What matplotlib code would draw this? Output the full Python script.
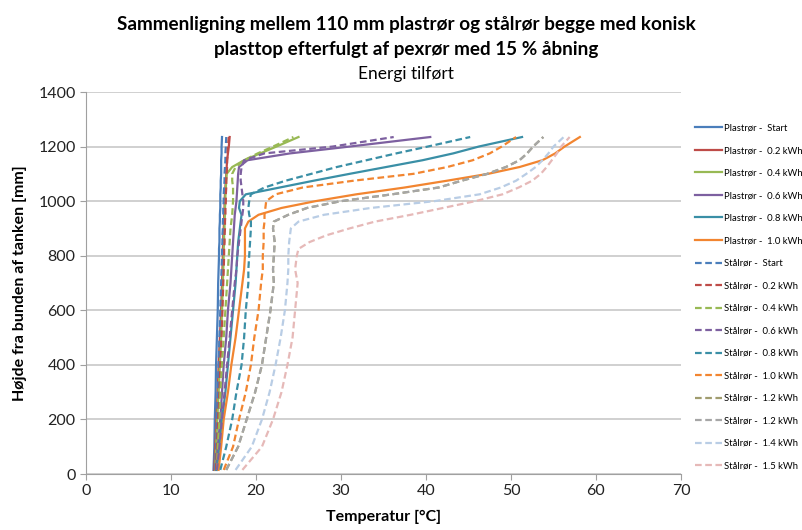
import matplotlib
matplotlib.use("Agg")
import matplotlib.pyplot as plt

# heights above tank bottom [mm]
heights = [15, 100, 200, 300, 400, 500, 600, 700, 750, 800, 825, 850, 875, 900,
           925, 950, 975, 1000, 1025, 1050, 1075, 1100, 1125, 1150, 1175, 1200, 1235]

# temperatures [C], one list per curve
plast_start = [15.0, 15.1, 15.15, 15.25, 15.3, 15.4, 15.5, 15.55, 15.6, 15.65, 15.65, 15.7, 15.7, 15.7,
               15.75, 15.75, 15.8, 15.8, 15.8, 15.85, 15.85, 15.9, 15.9, 15.9, 15.95, 15.95, 16.0]
plast_02 = [15.1, 15.2, 15.35, 15.5, 15.6, 15.75, 15.9, 16.0, 16.05, 16.1, 16.1, 16.15, 16.15, 16.2,
            16.25, 16.25, 16.3, 16.3, 16.35, 16.4, 16.45, 16.5, 16.55, 16.6, 16.7, 16.8, 16.9]
plast_04 = [15.2, 15.3, 15.45, 15.6, 15.75, 15.9, 16.0, 16.1, 16.15, 16.2, 16.2, 16.25, 16.25, 16.3,
            16.3, 16.35, 16.35, 16.4, 16.4, 16.45, 16.5, 16.55, 17.2, 18.6, 20.5, 22.4, 25.0]
plast_06 = [15.3, 15.5, 15.8, 16.0, 16.2, 16.5, 16.7, 17.0, 17.1, 17.2, 17.25, 17.3, 17.35, 17.4,
            17.45, 17.5, 17.6, 17.7, 17.75, 17.8, 17.85, 17.9, 18.0, 19.0, 24.0, 31.0, 40.5]
plast_08 = [15.4, 15.7, 16.0, 16.4, 16.7, 17.0, 17.3, 17.6, 17.7, 17.8, 17.85, 17.9, 18.0, 18.1,
            18.2, 18.3, 18.0, 18.1, 18.8, 22.8, 26.8, 31.0, 35.3, 39.6, 43.2, 46.2, 51.3]
plast_10 = [15.6, 15.9, 16.2, 16.7, 17.1, 17.6, 18.0, 18.4, 18.6, 18.7, 18.7, 18.7, 18.7, 18.7,
            19.1, 20.3, 23.0, 27.0, 31.8, 37.5, 42.5, 47.3, 51.0, 53.7, 55.2, 56.3, 58.1]

staal_start = [15.2, 15.3, 15.4, 15.5, 15.6, 15.7, 15.8, 15.9, 15.95, 16.0, 16.0, 16.05, 16.05, 16.1,
               16.1, 16.15, 16.15, 16.2, 16.2, 16.25, 16.3, 16.3, 16.35, 16.4, 16.4, 16.45, 16.5]
staal_02 = [15.3, 15.4, 15.55, 15.7, 15.8, 15.95, 16.05, 16.15, 16.2, 16.25, 16.25, 16.3, 16.3, 16.35,
            16.35, 16.4, 16.4, 16.45, 16.45, 16.5, 16.5, 16.55, 16.6, 16.6, 16.65, 16.7, 16.8]
staal_04 = [15.4, 15.5, 15.7, 15.8, 16.0, 16.2, 16.4, 16.6, 16.7, 16.8, 16.85, 16.9, 16.95, 17.0,
            17.1, 17.2, 17.25, 17.3, 17.3, 17.3, 17.2, 17.2, 17.6, 18.6, 20.2, 22.0, 24.4]
staal_06 = [15.4, 15.7, 16.0, 16.3, 16.6, 16.9, 17.2, 17.5, 17.7, 17.8, 17.9, 18.0, 18.1, 18.2,
            18.3, 18.4, 18.5, 18.5, 18.4, 18.3, 18.2, 18.2, 18.3, 18.6, 21.0, 29.0, 36.2]
staal_08 = [15.8, 16.5, 17.2, 17.7, 18.3, 18.6, 18.8, 19.1, 19.1, 19.2, 19.25, 19.3, 19.35, 19.4,
            19.4, 19.2, 19.1, 19.2, 19.4, 21.0, 23.5, 26.5, 29.5, 33.0, 36.5, 40.2, 45.2]
staal_10 = [16.2, 17.3, 18.0, 18.8, 19.4, 19.8, 20.3, 20.6, 20.8, 20.8, 20.85, 20.9, 20.9, 20.9,
            21.0, 21.0, 21.1, 21.2, 22.3, 25.5, 31.5, 38.5, 42.5, 45.5, 47.5, 48.9, 50.6]
staal_12a = [16.5, 17.9, 18.9, 19.9, 20.7, 21.2, 21.7, 22.1, 22.0, 22.1, 22.15, 22.2, 22.1, 22.0,
             22.1, 23.8, 26.0, 30.0, 36.0, 41.5, 44.2, 47.2, 49.4, 51.0, 51.9, 52.6, 53.8]
staal_12b = [16.5, 17.9, 18.9, 19.9, 20.7, 21.2, 21.7, 22.1, 22.0, 22.1, 22.15, 22.2, 22.1, 22.0,
             22.1, 23.8, 26.0, 30.0, 36.0, 41.5, 44.2, 47.2, 49.4, 51.0, 51.9, 52.6, 53.8]
staal_14 = [17.6, 19.5, 20.7, 21.6, 22.3, 22.9, 23.4, 23.7, 23.8, 23.8, 23.85, 23.9, 24.0, 24.1,
            25.0, 28.0, 33.5, 41.0, 46.3, 48.8, 50.6, 51.8, 52.9, 53.7, 54.4, 55.0, 56.2]
staal_15 = [18.4, 20.7, 22.0, 23.0, 23.7, 24.3, 24.6, 24.9, 24.6, 24.8, 25.0, 26.3, 28.3, 31.0,
            34.0, 38.2, 42.0, 45.8, 49.0, 50.9, 52.5, 53.5, 54.2, 54.8, 55.4, 55.9, 56.9]

plast_series = [
    ("Plastrør -  Start", plast_start, "#4A7EBB"),
    ("Plastrør -  0.2 kWh", plast_02, "#BE4B48"),
    ("Plastrør -  0.4 kWh", plast_04, "#98B954"),
    ("Plastrør -  0.6 kWh", plast_06, "#7D60A0"),
    ("Plastrør -  0.8 kWh", plast_08, "#3A8FA6"),
    ("Plastrør -  1.0 kWh", plast_10, "#F28530"),
]
staal_series = [
    ("Stålrør -  Start", staal_start, "#4A7EBB"),
    ("Stålrør -  0.2 kWh", staal_02, "#BE4B48"),
    ("Stålrør -  0.4 kWh", staal_04, "#98B954"),
    ("Stålrør -  0.6 kWh", staal_06, "#7D60A0"),
    ("Stålrør -  0.8 kWh", staal_08, "#3A8FA6"),
    ("Stålrør -  1.0 kWh", staal_10, "#F28530"),
    ("Stålrør -  1.2 kWh", staal_12a, "#A09C6E"),
    ("Stålrør -  1.2 kWh", staal_12b, "#A6A6A6"),
    ("Stålrør -  1.4 kWh", staal_14, "#B9CDE5"),
    ("Stålrør -  1.5 kWh", staal_15, "#E6B9B8"),
]

plt.rcParams["font.family"] = ["Lato", "DejaVu Sans"]

fig = plt.figure(figsize=(8.03, 5.30), dpi=100)
ax = fig.add_axes([86 / 803, 1 - 474 / 530, 595 / 803, 382 / 530])

handles = []
for label, temps, color in plast_series:
    h, = ax.plot(temps, heights, color=color, lw=1.6, label=label)
    handles.append(h)
for label, temps, color in staal_series:
    h, = ax.plot(temps, heights, color=color, lw=1.6, ls=(0, (3, 1.6)), label=label)
    handles.append(h)

ax.set_xlim(0, 70)
ax.set_ylim(0, 1400)
ax.set_xticks(range(0, 71, 10))
ax.set_yticks(range(0, 1401, 200))
ax.grid(axis="y", color="#CDCDCD", lw=1.3)
ax.set_axisbelow(True)
for side in ["top", "right"]:
    ax.spines[side].set_visible(False)
for side in ["left", "bottom"]:
    ax.spines[side].set_color("#A0A0A0")
ax.tick_params(colors="#A0A0A0", labelcolor="#222222", labelsize=11.5, length=4)

ax.set_xlabel("Temperatur [°C]", fontsize=11.5, fontweight="bold", labelpad=8)
ax.set_ylabel("Højde fra bunden af tanken [mm]", fontsize=11.5, fontweight="bold", labelpad=8)

fig.text(0.506, 0.953, "Sammenligning mellem 110 mm plastrør og stålrør begge med konisk",
         ha="center", va="center", fontsize=13.6, fontweight="bold")
fig.text(0.506, 0.907, "plasttop efterfulgt af pexrør med 15 % åbning",
         ha="center", va="center", fontsize=13.6, fontweight="bold")
fig.text(0.506, 0.861, "Energi tilført", ha="center", va="center", fontsize=12.5)

fig.legend(handles=handles, loc="upper left", bbox_to_anchor=(691 / 803, 1 - 120 / 530),
           frameon=False, fontsize=6.8, handlelength=2.9, handletextpad=0.2,
           labelspacing=1.43, borderaxespad=0)

fig.savefig("out.png", dpi=100)
